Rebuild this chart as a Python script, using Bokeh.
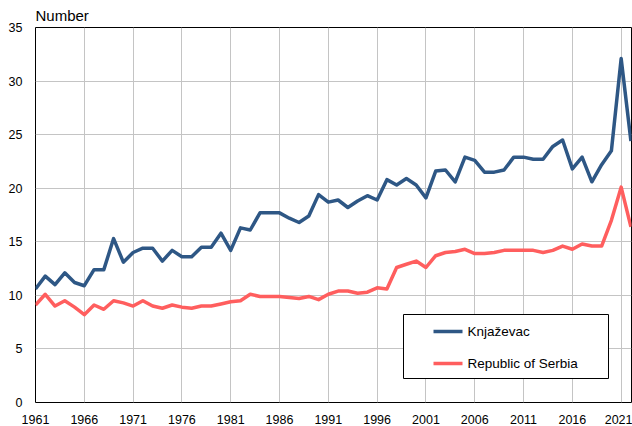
from bokeh.plotting import figure
from bokeh.models import (ColumnDataSource, FixedTicker, Label, BoxAnnotation, Arrow, Range1d)
from bokeh.embed import file_html
from bokeh.resources import INLINE

years = list(range(1961, 2023))
knjazevac = [10.6, 11.8, 11.0, 12.1, 11.2, 10.9, 12.4, 12.4, 15.3, 13.1,
             14.0, 14.4, 14.4, 13.2, 14.2, 13.6, 13.6, 14.5, 14.5, 15.8,
             14.2, 16.3, 16.1, 17.7, 17.7, 17.7, 17.2, 16.8, 17.4, 19.4,
             18.7, 18.9, 18.2, 18.8, 19.3, 18.9, 20.8, 20.3, 20.9, 20.3,
             19.1, 21.6, 21.7, 20.6, 22.9, 22.6, 21.5, 21.5, 21.7, 22.9,
             22.9, 22.7, 22.7, 23.9, 24.5, 21.8, 22.9, 20.6, 22.2, 23.5,
             32.1, 24.4]
serbia = [9.1, 10.1, 9.0, 9.5, 8.9, 8.2, 9.1, 8.7, 9.5, 9.3,
          9.0, 9.5, 9.0, 8.8, 9.1, 8.9, 8.8, 9.0, 9.0, 9.2,
          9.4, 9.5, 10.1, 9.9, 9.9, 9.9, 9.8, 9.7, 9.9, 9.6,
          10.1, 10.4, 10.4, 10.2, 10.3, 10.7, 10.6, 12.6, 12.9, 13.2,
          12.6, 13.7, 14.0, 14.1, 14.3, 13.9, 13.9, 14.0, 14.2, 14.2,
          14.2, 14.2, 14.0, 14.2, 14.6, 14.3, 14.8, 14.6, 14.6, 17.0,
          20.1, 16.4]
x_ticks = [1961, 1966, 1971, 1976, 1981, 1986, 1991, 1996, 2001, 2006, 2011, 2016, 2021]
y_ticks = [0, 5, 10, 15, 20, 25, 30, 35]
series_names = ["Knjaževac", "Republic of Serbia"]
colors = ["#2e5785", "#ff5e5e"]

FONT = "Liberation Sans"

src = ColumnDataSource(dict(year=years, knj=knjazevac, srb=serbia))

p = figure(width=632, height=426, output_backend="svg", toolbar_location=None,
           title="Number",
           x_range=Range1d(1961, 2022.06), y_range=Range1d(0, 35),
           min_border_left=35, min_border_right=1, min_border_top=27, min_border_bottom=24)

p.title.text_font = FONT
p.title.text_font_size = "15px"
p.title.text_font_style = "normal"
p.title.text_color = "#000000"
p.title.align = "left"
p.title.standoff = 8
p.title.offset = 0

p.background_fill_color = "white"
p.border_fill_color = "white"
p.outline_line_color = "black"
p.outline_line_width = 1

p.xaxis.ticker = FixedTicker(ticks=x_ticks)
p.yaxis.ticker = FixedTicker(ticks=y_ticks)
for ax in (p.xaxis[0], p.yaxis[0]):
    ax.axis_line_color = None
    ax.major_tick_line_color = None
    ax.minor_tick_line_color = None
    ax.major_tick_in = 0
    ax.major_tick_out = 0
    ax.major_label_text_font = FONT
    ax.major_label_text_font_size = "12.5px"
    ax.major_label_text_color = "#000000"
p.yaxis.major_label_standoff = 13
p.xaxis.major_label_standoff = 12

p.xgrid.ticker = FixedTicker(ticks=x_ticks)
p.ygrid.ticker = FixedTicker(ticks=y_ticks)
p.grid.grid_line_color = "#c4c4c4"
p.grid.grid_line_width = 1

p.line("year", "knj", source=src, line_color=colors[0], line_width=3.5, line_join="round")
p.line("year", "srb", source=src, line_color=colors[1], line_width=3.5, line_join="round")

# legend box (frame-relative screen units)
p.add_layout(BoxAnnotation(left=368, right=573, bottom=24, top=88,
                           left_units="screen", right_units="screen",
                           bottom_units="screen", top_units="screen",
                           fill_color="white", fill_alpha=1.0,
                           line_color="black", line_width=1, line_alpha=1.0))
for i, (name, c) in enumerate(zip(series_names, colors)):
    yy = 71 - i * 32
    p.add_layout(Arrow(end=None, x_start=398, y_start=yy, x_end=427, y_end=yy,
                       start_units="screen", end_units="screen",
                       line_color=c, line_width=3.5))
    p.add_layout(Label(x=432, y=yy, x_units="screen", y_units="screen", text=name,
                       text_font=FONT, text_font_size="13.5px", text_color="#000000",
                       text_baseline="middle", text_align="left"))

open("out.html", "w").write(file_html(p, INLINE))
